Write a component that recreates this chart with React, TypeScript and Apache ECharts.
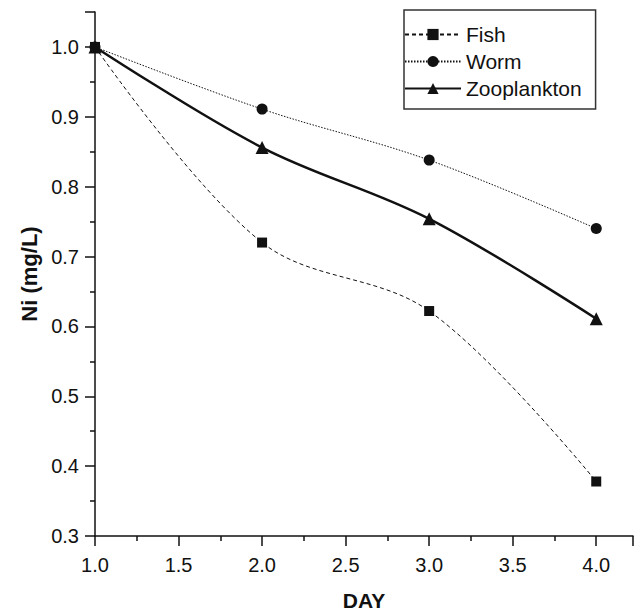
import React, { useEffect, useRef } from "react";
import * as echarts from "echarts";

const days = [1, 2, 3, 4];
const fish = [1.0, 0.72, 0.622, 0.378];
const worm = [1.0, 0.911, 0.838, 0.74];
const zooplankton = [1.0, 0.856, 0.754, 0.611];

const FONT = "'Liberation Sans Narrow', 'Arial Narrow', 'Liberation Sans', Arial, sans-serif";
const BOLD_FONT = "'Liberation Sans', Arial, sans-serif";

export default function App() {
  const ref = useRef<HTMLDivElement>(null);
  useEffect(() => {
    if (!ref.current) return;
    const chart = echarts.init(ref.current, null, { renderer: "svg" });
    const pair = (vals: number[]) => days.map((d, i) => [d, vals[i]]);
    chart.setOption({
      animation: false,
      backgroundColor: "#fff",
      grid: { left: 95, right: 4, top: 12, bottom: 72, containLabel: false },
      legend: {
        orient: "vertical",
        left: 404,
        top: 10,
        itemWidth: 56,
        itemHeight: 14,
        itemGap: 6,
        padding: [14, 14, 10, 0],
        borderColor: "#333",
        borderWidth: 1.5,
        textStyle: { fontFamily: FONT, fontSize: 21, color: "#111" },
        data: ["Fish", "Worm", "Zooplankton"],
      },
      xAxis: {
        type: "value",
        min: 1,
        max: 4.22,
        interval: 0.5,
        name: "DAY",
        nameLocation: "middle",
        nameGap: 54,
        nameTextStyle: { fontFamily: BOLD_FONT, fontWeight: "bold", fontSize: 21, color: "#111" },
        axisLine: { show: true, onZero: false, lineStyle: { color: "#111", width: 1.5 } },
        axisTick: { show: true, inside: false, length: 10, lineStyle: { color: "#111", width: 1.5 } },
        minorTick: { show: true, splitNumber: 2, length: 5, lineStyle: { color: "#111", width: 1.5 } },
        axisLabel: {
          showMaxLabel: false,
          margin: 19,
          fontFamily: FONT,
          fontSize: 20,
          color: "#111",
          formatter: (v: number) => v.toFixed(1),
        },
        splitLine: { show: false },
      },
      yAxis: {
        type: "value",
        position: "left",
        min: 0.3,
        max: 1.05,
        interval: 0.1,
        name: "Ni (mg/L)",
        nameLocation: "middle",
        nameGap: 54,
        nameTextStyle: { fontFamily: BOLD_FONT, fontWeight: "bold", fontSize: 22, color: "#111" },
        axisLine: { show: true, onZero: false, lineStyle: { color: "#111", width: 1.5 } },
        axisTick: { show: true, inside: false, length: 10, lineStyle: { color: "#111", width: 1.5 } },
        minorTick: { show: true, splitNumber: 2, length: 5, lineStyle: { color: "#111", width: 1.5 } },
        axisLabel: {
          show: true,
          showMaxLabel: false,
          margin: 16,
          fontFamily: FONT,
          fontSize: 20,
          color: "#111",
          formatter: (v: number) => v.toFixed(1),
        },
        splitLine: { show: false },
      },
      series: [
        {
          name: "Fish",
          type: "line",
          data: pair(fish),
          smooth: 0.35,
          symbol: "rect",
          symbolSize: 10,
          itemStyle: { color: "#111" },
          lineStyle: { color: "#111", width: 1, type: [4, 3] },
          z: 4,
        },
        {
          name: "Worm",
          type: "line",
          data: pair(worm),
          smooth: 0.35,
          symbol: "circle",
          symbolSize: 11,
          itemStyle: { color: "#111" },
          lineStyle: { color: "#111", width: 1, type: [1.5, 1.5] },
          z: 3,
        },
        {
          name: "Zooplankton",
          type: "line",
          data: pair(zooplankton),
          smooth: 0.35,
          symbol: "triangle",
          symbolSize: 13,
          itemStyle: { color: "#111" },
          lineStyle: { color: "#111", width: 2.5 },
          z: 2,
        },
      ],
    });
    return () => chart.dispose();
  }, []);
  return (
    <div
      ref={ref}
      style={{ position: "absolute", left: 0, top: 0, width: 637, height: 616 }}
    />
  );
}
